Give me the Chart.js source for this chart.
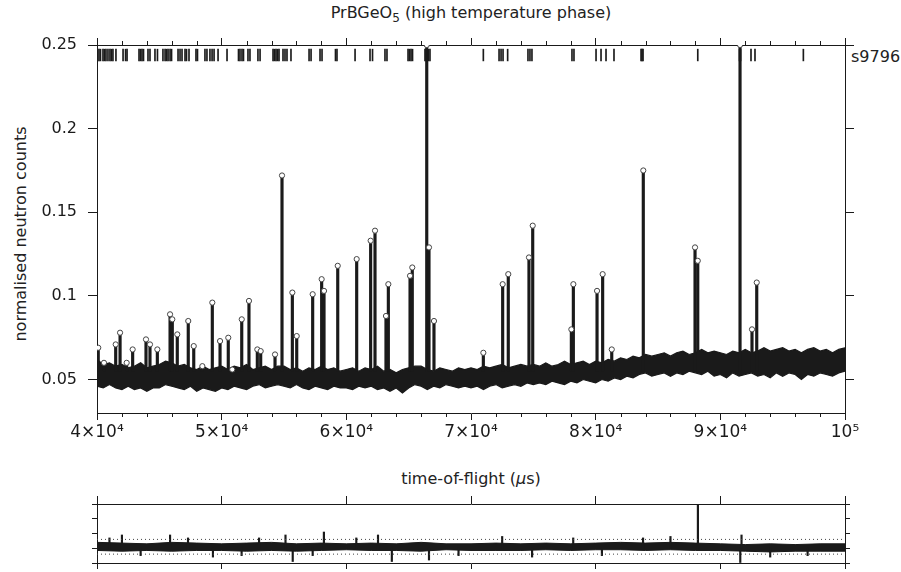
<!DOCTYPE html>
<html>
<head>
<meta charset="utf-8">
<script src="https://cdn.jsdelivr.net/npm/chart.js@4.4.0/dist/chart.umd.min.js"></script>
<style>
  body { margin: 0; background: #fff; width: 901px; height: 572px; position: relative; overflow: hidden;
         font-family: "DejaVu Sans", sans-serif; color: #222; }
  canvas { position: absolute; left: 0; }
  #main { top: 0; }
  #diff { top: 490px; }
  .lbl { position: absolute; font-size: 16px; white-space: nowrap; }
  .lbl sub { font-size: 12px; vertical-align: -4px; }
  #title { left: 97px; width: 748px; top: 3px; text-align: center; }
  #ytitle { left: 20px; top: 234px; transform: translate(-50%, -50%) rotate(-90deg); }
  #xtitle { left: 97px; width: 748px; top: 469px; text-align: center; }
  #run { left: 851px; top: 47px; }
</style>
</head>
<body>
<div class="lbl" id="title">PrBGeO<sub>5</sub> (high temperature phase)</div>
<div class="lbl" id="ytitle">normalised neutron counts</div>
<div class="lbl" id="xtitle">time-of-flight (<i>μ</i>s)</div>
<div class="lbl" id="run">s9796</div>
<canvas id="main" width="901" height="460"></canvas>
<canvas id="diff" width="901" height="82"></canvas>
<script>
// axis ticks
const xTicks = [40000, 50000, 60000, 70000, 80000, 90000, 100000];
const xTickLabels = ['4×10⁴', '5×10⁴', '6×10⁴', '7×10⁴', '8×10⁴', '9×10⁴', '10⁵'];
const xMinorTicks = [42000, 44000, 46000, 48000, 52000, 54000, 56000, 58000, 62000, 64000, 66000, 68000,
  72000, 74000, 76000, 78000, 82000, 84000, 86000, 88000, 92000, 94000, 96000, 98000];
const yTicks = [0.05, 0.1, 0.15, 0.2, 0.25];
const yTickLabels = ['0.05', '0.1', '0.15', '0.2', '0.25'];
const diffTicks = [0, 1, 2, 3, 4];

// background band (lower / upper edge of the noisy observed data), every 500 us
const bandTof = [40000, 40500, 41000, 41500, 42000, 42500, 43000, 43500, 44000, 44500,
  45000, 45500, 46000, 46500, 47000, 47500, 48000, 48500, 49000, 49500,
  50000, 50500, 51000, 51500, 52000, 52500, 53000, 53500, 54000, 54500,
  55000, 55500, 56000, 56500, 57000, 57500, 58000, 58500, 59000, 59500,
  60000, 60500, 61000, 61500, 62000, 62500, 63000, 63500, 64000, 64500,
  65000, 65500, 66000, 66500, 67000, 67500, 68000, 68500, 69000, 69500,
  70000, 70500, 71000, 71500, 72000, 72500, 73000, 73500, 74000, 74500,
  75000, 75500, 76000, 76500, 77000, 77500, 78000, 78500, 79000, 79500,
  80000, 80500, 81000, 81500, 82000, 82500, 83000, 83500, 84000, 84500,
  85000, 85500, 86000, 86500, 87000, 87500, 88000, 88500, 89000, 89500,
  90000, 90500, 91000, 91500, 92000, 92500, 93000, 93500, 94000, 94500,
  95000, 95500, 96000, 96500, 97000, 97500, 98000, 98500, 99000, 99500, 100000];
const bandHigh = [0.062, 0.059, 0.060, 0.058, 0.059, 0.057, 0.058, 0.060, 0.057, 0.058,
  0.059, 0.061, 0.060, 0.058, 0.059, 0.057, 0.056, 0.058, 0.056, 0.057,
  0.058, 0.056, 0.058, 0.057, 0.059, 0.056, 0.057, 0.058, 0.056, 0.058,
  0.058, 0.056, 0.057, 0.055, 0.057, 0.056, 0.058, 0.056, 0.057, 0.055,
  0.056, 0.057, 0.055, 0.057, 0.056, 0.058, 0.055, 0.056, 0.054, 0.056,
  0.057, 0.058, 0.058, 0.056, 0.055, 0.057, 0.056, 0.055, 0.057, 0.056,
  0.057, 0.056, 0.058, 0.057, 0.058, 0.059, 0.057, 0.058, 0.059, 0.058,
  0.059, 0.058, 0.060, 0.058, 0.059, 0.061, 0.059, 0.060, 0.061, 0.059,
  0.061, 0.060, 0.062, 0.061, 0.063, 0.062, 0.064, 0.063, 0.065, 0.064,
  0.065, 0.066, 0.064, 0.066, 0.067, 0.065, 0.066, 0.068, 0.066, 0.067,
  0.066, 0.065, 0.067, 0.066, 0.068, 0.066, 0.067, 0.069, 0.067, 0.068,
  0.069, 0.067, 0.068, 0.066, 0.068, 0.069, 0.067, 0.068, 0.066, 0.068, 0.069];
const bandLow = [0.046, 0.045, 0.047, 0.045, 0.044, 0.046, 0.044, 0.045, 0.043, 0.045,
  0.045, 0.047, 0.046, 0.045, 0.044, 0.046, 0.043, 0.045, 0.044, 0.043,
  0.045, 0.044, 0.046, 0.045, 0.044, 0.046, 0.047, 0.045, 0.046, 0.047,
  0.046, 0.045, 0.047, 0.045, 0.044, 0.046, 0.045, 0.044, 0.046, 0.045,
  0.045, 0.044, 0.046, 0.045, 0.046, 0.044, 0.045, 0.043, 0.045, 0.042,
  0.045, 0.047, 0.046, 0.044, 0.046, 0.045, 0.047, 0.046, 0.045, 0.046,
  0.045, 0.046, 0.044, 0.046, 0.047, 0.045, 0.046, 0.047, 0.046, 0.048,
  0.047, 0.048, 0.047, 0.049, 0.048, 0.047, 0.049, 0.048, 0.050, 0.049,
  0.048, 0.050, 0.049, 0.051, 0.050, 0.052, 0.051, 0.053, 0.054, 0.052,
  0.053, 0.054, 0.052, 0.054, 0.053, 0.055, 0.054, 0.053, 0.055, 0.052,
  0.053, 0.051, 0.054, 0.052, 0.053, 0.054, 0.052, 0.053, 0.051, 0.054,
  0.052, 0.054, 0.053, 0.050, 0.053, 0.052, 0.054, 0.053, 0.052, 0.054, 0.055];

// Bragg peaks: position and observed top
const peakTof = [40100, 40560, 41500, 41850, 42380, 42860, 43930, 44250, 44840, 45860, 46040, 46440,
  47320, 47760, 48450, 49250, 49870, 50530, 50850, 51610, 52190, 52860, 53130, 54280, 54840,
  55670, 56020, 57300, 58020, 58210, 59310, 60830, 61950, 62300, 63180, 63370, 65110, 65290,
  66450, 66630, 67030, 70990, 72540, 72990, 74650, 74950, 78050, 78210, 80110, 80560, 81290,
  83820, 87970, 88190, 91580, 92540, 92920];
const peakTop = [0.069, 0.060, 0.071, 0.078, 0.060, 0.068, 0.074, 0.071, 0.068, 0.089, 0.086, 0.077,
  0.085, 0.070, 0.058, 0.096, 0.073, 0.075, 0.056, 0.086, 0.097, 0.068, 0.067, 0.065, 0.172,
  0.102, 0.076, 0.101, 0.110, 0.103, 0.118, 0.122, 0.133, 0.139, 0.088, 0.107, 0.112, 0.117,
  0.25, 0.129, 0.085, 0.066, 0.107, 0.113, 0.123, 0.142, 0.080, 0.107, 0.103, 0.113, 0.068,
  0.175, 0.129, 0.121, 0.25, 0.080, 0.108];
const peakFoot = 0.055;

// reflection markers (row under the top frame)
const reflTof = [40040, 40160, 40280, 40480, 40600, 40720, 40880, 41040, 41160, 41280, 41520, 42090,
  42290, 42410, 43370, 43490, 43610, 43730, 44090, 44250, 44650, 44850, 45290, 45460, 45580,
  45700, 45860, 45980, 46500, 46660, 46820, 47060, 47180, 47380, 47940, 48060, 48660, 48820,
  49060, 49230, 49390, 49710, 50430, 51350, 51470, 51630, 51750, 52110, 52270, 52910, 53080,
  54120, 54240, 54360, 54480, 54600, 54920, 55080, 55240, 55560, 57010, 57170, 57890, 58050,
  59130, 59250, 60700, 61900, 62100, 63100, 63260, 64950, 65070, 65190, 65310, 66310, 66430,
  66590, 66710, 70990, 72250, 72410, 72570, 72940, 74570, 74730, 74890, 78100, 78260, 80030,
  80430, 80830, 81470, 83640, 83720, 83800, 88190, 91540, 91620, 92460, 92780, 96660];
const reflRow = [0.2405, 0.2475];

// difference curve (obs - calc), arbitrary units, offset
const diffTof = [40000, 42000, 44000, 46000, 48000, 50000, 52000, 54000, 56000, 58000, 60000,
  62000, 64000, 66000, 68000, 70000, 72000, 74000, 76000, 78000, 80000,
  82000, 84000, 86000, 88000, 90000, 92000, 94000, 96000, 98000, 100000];
const diffHigh = [1.4, 1.35, 1.3, 1.4, 1.35, 1.3, 1.35, 1.4, 1.3, 1.35, 1.3, 1.35, 1.3, 1.4, 1.3, 1.3,
  1.35, 1.3, 1.35, 1.3, 1.35, 1.4, 1.35, 1.4, 1.35, 1.3, 1.25, 1.3, 1.25, 1.3, 1.3];
const diffLow = [0.85, 0.8, 0.85, 0.8, 0.85, 0.85, 0.8, 0.85, 0.8, 0.85, 0.9, 0.85, 0.85, 0.8, 0.9, 0.85,
  0.85, 0.85, 0.9, 0.85, 0.9, 0.9, 0.85, 0.9, 0.85, 0.85, 0.8, 0.75, 0.8, 0.8, 0.8];
const diffSpikeTof = [41000, 42000, 43500, 45860, 47300, 49300, 51600, 53000, 55120, 55700, 57300, 58200,
  60800, 62540, 63650, 66630, 69000, 72500, 74900, 78200, 80500, 83800, 86000, 88200, 91600, 91700,
  94000, 97000];
const diffSpikeLow = [1.0, 1.0, 0.5, 1.0, 1.0, 0.4, 0.5, 1.0, 1.0, 0.1, 0.5, 1.0,
  1.0, 1.0, 0.1, 0.2, 0.5, 1.0, 0.4, 1.0, 0.5, 1.0, 1.0, 1.0, 0.0, 1.0,
  0.4, 0.5];
const diffSpikeHigh = [1.7, 1.9, 1.0, 1.9, 1.7, 1.0, 1.0, 1.7, 1.9, 1.0, 1.0, 2.1,
  1.7, 1.9, 1.0, 1.0, 1.0, 1.8, 1.0, 1.7, 1.0, 1.7, 1.8, 4.0, 1.0, 1.9,
  1.0, 1.0];
const diffGuides = [1.6, 0.6];

const ink = '#1a1a1a';
const tickFont = { family: 'DejaVu Sans', size: 16 };

const pts = (xs, ys) => xs.map((x, i) => ({ x: x, y: ys[i] }));
const bars = (xs, lo, hi) => xs.map((x, i) => ({ x: x, y: [lo[i], hi[i]] }));
const same = (xs, v) => xs.map(() => v);

// minor ticks on top and bottom frame
const minorTicks = {
  id: 'minorTicks',
  afterDraw(chart, args, opts) {
    if (!opts.values) return;
    const ctx = chart.ctx, a = chart.chartArea, xs = chart.scales.x;
    ctx.save();
    ctx.strokeStyle = ink;
    ctx.lineWidth = 1;
    ctx.beginPath();
    opts.values.forEach(v => {
      const px = Math.round(xs.getPixelForValue(v)) + 0.5;
      ctx.moveTo(px, a.top); ctx.lineTo(px, a.top - opts.len);
      ctx.moveTo(px, a.bottom); ctx.lineTo(px, a.bottom + opts.len);
    });
    ctx.stroke();
    ctx.restore();
  }
};

function xAxis(pos, size, labels, tickLen) {
  return {
    type: 'linear', position: pos, min: 40000, max: 100000, offset: false,
    afterBuildTicks: s => { s.ticks = xTicks.map(v => ({ value: v })); },
    afterFit: s => { s.height = size; },
    grid: { drawOnChartArea: false, drawTicks: true, tickLength: tickLen, color: ink, offset: false },
    border: { display: true, color: ink, width: 1 },
    ticks: labels
      ? { autoSkip: false, maxRotation: 0, padding: 2, color: ink, font: { family: 'DejaVu Sans', size: 17 },
          callback: (v, i) => xTickLabels[i] }
      : { display: false }
  };
}

function yAxis(pos, size, min, max, values, labels, tickLen) {
  return {
    type: 'linear', position: pos, min: min, max: max,
    afterBuildTicks: s => { s.ticks = values.map(v => ({ value: v })); },
    afterFit: s => { s.width = size; },
    grid: { drawOnChartArea: false, drawTicks: true, tickLength: tickLen, color: ink },
    border: { display: true, color: ink, width: 1 },
    ticks: labels
      ? { padding: 11, color: ink, font: tickFont, callback: (v, i) => labels[i] }
      : { display: false }
  };
}

new Chart(document.getElementById('main'), {
  type: 'line',
  data: {
    datasets: [
      { type: 'line', data: pts(peakTof, peakTop), showLine: false, pointRadius: 2.6, pointBorderWidth: 1,
        pointBorderColor: '#444', pointBackgroundColor: '#fff', order: 0 },
      { type: 'bar', data: bars(reflTof, same(reflTof, reflRow[0]), same(reflTof, reflRow[1])),
        backgroundColor: ink, barThickness: 1, grouped: false, order: 0 },
      { type: 'bar', data: bars(peakTof, same(peakTof, peakFoot), peakTop),
        backgroundColor: ink, barThickness: 2.5, grouped: false, order: 1 },
      { type: 'line', data: pts(bandTof, bandLow), borderColor: ink, borderWidth: 1.2,
        pointRadius: 0, fill: false, order: 3 },
      { type: 'line', data: pts(bandTof, bandHigh), borderColor: ink, borderWidth: 1.2,
        backgroundColor: ink, pointRadius: 0, fill: '-1', order: 2 }
    ]
  },
  options: {
    responsive: false, animation: false, devicePixelRatio: 1,
    layout: { padding: 0 },
    plugins: { legend: { display: false }, tooltip: { enabled: false },
               minorTicks: { values: xMinorTicks, len: 4 } },
    scales: {
      x: xAxis('bottom', 47, true, 7),
      xTop: xAxis('top', 45, false, 7),
      y: yAxis('left', 97, 0.03, 0.25, yTicks, yTickLabels, 9),
      yRight: yAxis('right', 56, 0.03, 0.25, yTicks, null, 9)
    }
  },
  plugins: [minorTicks]
});

new Chart(document.getElementById('diff'), {
  type: 'line',
  data: {
    datasets: [
      { type: 'line', data: pts([40000, 100000], same([0, 1], diffGuides[0])), borderColor: '#444',
        borderWidth: 1, borderDash: [1, 3], pointRadius: 0, order: 0 },
      { type: 'line', data: pts([40000, 100000], same([0, 1], diffGuides[1])), borderColor: '#444',
        borderWidth: 1, borderDash: [1, 3], pointRadius: 0, order: 0 },
      { type: 'bar', data: bars(diffSpikeTof, diffSpikeLow, diffSpikeHigh), backgroundColor: ink,
        barThickness: 1.5, grouped: false, order: 1 },
      { type: 'line', data: pts(diffTof, diffLow), borderColor: ink, borderWidth: 1,
        pointRadius: 0, fill: false, order: 3 },
      { type: 'line', data: pts(diffTof, diffHigh), borderColor: ink, borderWidth: 1,
        backgroundColor: ink, pointRadius: 0, fill: '-1', order: 2 }
    ]
  },
  options: {
    responsive: false, animation: false, devicePixelRatio: 1,
    layout: { padding: 0 },
    plugins: { legend: { display: false }, tooltip: { enabled: false } },
    scales: {
      x: xAxis('bottom', 9, false, 6),
      xTop: xAxis('top', 14, false, 8),
      y: yAxis('left', 97, 0, 4, diffTicks, null, 5),
      yRight: yAxis('right', 56, 0, 4, diffTicks, null, 5)
    }
  }
});
</script>
</body>
</html>
